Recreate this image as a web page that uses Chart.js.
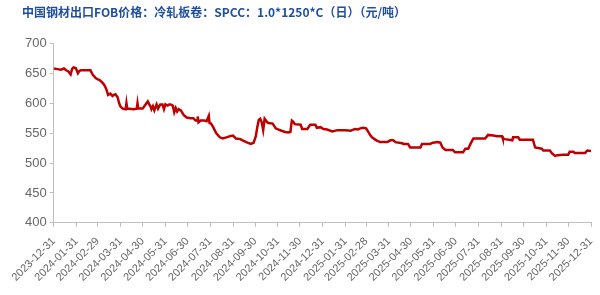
<!DOCTYPE html>
<html>
<head>
<meta charset="utf-8">
<script src="https://cdn.jsdelivr.net/npm/chart.js@4"></script>
<style>
  html, body { margin: 0; padding: 0; background: #fff; }
  #wrap { width: 600px; height: 295px; position: relative; }
</style>
</head>
<body>
<div id="wrap"><canvas id="fobChart"></canvas></div>
<script>
// 价格数据：日期用距 2023-12-31 的天数表示
const startDate = '2023-12-31';
const dayOffsets = [0, 5, 10, 14, 17, 20, 23, 25, 27, 30, 33, 35, 37, 43, 50, 53, 57, 60, 62, 65, 68, 70, 72, 74, 77, 80, 82, 84, 87, 89, 91, 94, 98, 99, 100, 109, 113, 114, 115, 121, 125, 128, 130, 132, 133, 135, 137, 140, 142, 145, 148, 150, 152, 155, 157, 159, 162, 164, 166, 168, 170, 173, 177, 181, 186, 190, 193, 195, 196, 197, 200, 205, 208, 211, 212, 214, 217, 221, 226, 230, 235, 240, 244, 248, 254, 257, 262, 268, 272, 275, 277, 279, 281, 283, 285, 287, 290, 292, 298, 302, 306, 310, 315, 319, 322, 324, 326, 328, 336, 338, 345, 349, 356, 358, 363, 367, 372, 379, 386, 397, 404, 410, 414, 417, 421, 425, 428, 431, 433, 439, 444, 447, 454, 458, 462, 465, 474, 476, 482, 485, 499, 501, 512, 516, 522, 526, 529, 533, 535, 543, 546, 557, 560, 564, 567, 571, 587, 591, 598, 603, 610, 611, 614, 624, 625, 632, 634, 652, 655, 664, 666, 675, 678, 682, 685, 693, 700, 702, 707, 709, 723, 726, 731];
const prices = [658, 657, 656, 658, 655, 653, 648, 657, 660, 659, 650, 654, 655, 655, 655, 648, 642, 640, 639, 636, 632, 628, 622, 614, 616, 612, 614, 615, 610, 600, 594, 591, 590, 600, 591, 590, 591, 600, 591, 591, 598, 603, 598, 594, 590, 595, 588, 598, 591, 598, 598, 590, 598, 596, 598, 598, 596, 585, 592, 586, 590, 588, 580, 576, 575, 575, 571, 571, 578, 568, 571, 571, 570, 579, 567, 566, 560, 550, 543, 541, 543, 545, 546, 541, 540, 538, 535, 532, 534, 545, 560, 572, 574, 568, 555, 574, 569, 567, 566, 558, 556, 554, 552, 551, 552, 571, 569, 565, 564, 557, 557, 564, 564, 559, 560, 557, 556, 553, 555, 555, 554, 557, 556, 558, 559, 558, 552, 546, 543, 538, 535, 535, 535, 538, 538, 535, 533, 532, 532, 526, 526, 532, 532, 534, 535, 534, 526, 522, 522, 522, 518, 518, 524, 524, 532, 541, 541, 547, 546, 545, 545, 541, 540, 538, 543, 543, 539, 539, 526, 524, 521, 521, 516, 512, 513, 514, 514, 519, 519, 517, 517, 521, 520];

// x 轴刻度标签（月末）
const monthEnds = ['2023-12-31', '2024-01-31', '2024-02-29', '2024-03-31', '2024-04-30', '2024-05-31', '2024-06-30', '2024-07-31', '2024-08-31', '2024-09-30', '2024-10-31', '2024-11-30', '2024-12-31', '2025-01-31', '2025-02-28', '2025-03-31', '2025-04-30', '2025-05-31', '2025-06-30', '2025-07-31', '2025-08-31', '2025-09-30', '2025-10-31', '2025-11-30', '2025-12-31'];
const yTicks = [400, 450, 500, 550, 600, 650, 700];

const chartTitle = '中国钢材出口FOB价格：冷轧板卷：SPCC：1.0*1250*C（日）（元/吨）';

const dayMs = 24 * 3600 * 1000;
const toDay = (s) => Math.round((Date.parse(s) - Date.parse(startDate)) / dayMs);
const monthDays = monthEnds.map(toDay);

const points = dayOffsets.map((d, i) => ({ x: d, y: prices[i] }));

const axisGrey = '#bfbfbf';
const tickText = '#666666';

new Chart(document.getElementById('fobChart'), {
  type: 'line',
  data: {
    datasets: [{
      data: points,
      borderColor: '#c00000',
      borderWidth: 2.5,
      pointRadius: 0,
      tension: 0,
      fill: false
    }]
  },
  options: {
    responsive: true,
    maintainAspectRatio: false,
    animation: false,
    layout: {
      padding: { left: 22, right: 0, top: 5, bottom: 3 }
    },
    plugins: {
      legend: { display: false },
      tooltip: { enabled: false },
      title: {
        display: true,
        text: chartTitle,
        align: 'start',
        color: '#1f4e9e',
        font: { family: '"Noto Sans CJK SC", sans-serif', size: 12, weight: 'bold' },
        padding: { top: 0, bottom: 24 }
      }
    },
    scales: {
      x: {
        type: 'linear',
        min: 0,
        max: monthDays[monthDays.length - 1],
        afterBuildTicks: (axis) => {
          axis.ticks = monthDays.map(v => ({ value: v }));
        },
        // 旋转标签向左伸展，右侧只留一点空白
        afterFit: (axis) => {
          axis.paddingRight = 9;
        },
        border: { color: axisGrey, width: 1 },
        grid: { display: true, drawOnChartArea: false, drawTicks: true, tickLength: 4, color: axisGrey },
        ticks: {
          autoSkip: false,
          maxRotation: 45,
          minRotation: 45,
          padding: 8,
          color: tickText,
          font: { family: 'Arial, "Liberation Sans", sans-serif', size: 11 },
          callback: (value) => {
            const i = monthDays.indexOf(value);
            return i >= 0 ? monthEnds[i] : '';
          }
        }
      },
      y: {
        min: 400,
        max: 700,
        afterBuildTicks: (axis) => {
          axis.ticks = yTicks.map(v => ({ value: v }));
        },
        border: { color: axisGrey, width: 1 },
        grid: { display: true, drawOnChartArea: false, drawTicks: true, tickLength: 4, color: axisGrey },
        ticks: {
          padding: 3,
          color: tickText,
          font: { family: 'Arial, "Liberation Sans", sans-serif', size: 13 }
        }
      }
    }
  }
});
</script>
</body>
</html>
